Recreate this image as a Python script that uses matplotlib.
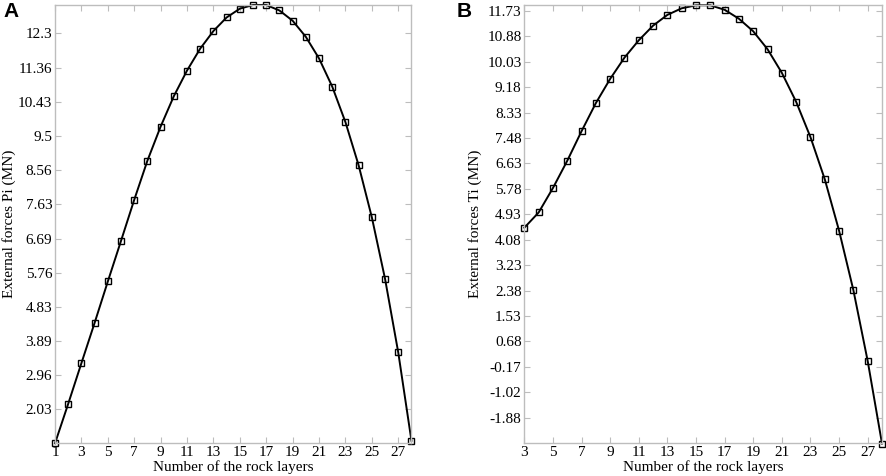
import numpy as np
import matplotlib.pyplot as plt

# Panel A: external forces Pi
layers_a = np.arange(1, 29)
pi_values = [1.1, 2.18, 3.29, 4.39, 5.52, 6.63, 7.75, 8.82, 9.75, 10.58,
             11.28, 11.88, 12.36, 12.73, 12.97, 13.07, 13.07, 12.92, 12.64, 12.2,
             11.61, 10.84, 9.87, 8.69, 7.27, 5.59, 3.58, 1.17]
yticks_a = [2.03, 2.96, 3.89, 4.83, 5.76, 6.69, 7.63, 8.56, 9.5, 10.43, 11.36, 12.3]
yticklabels_a = ["2.03", "2.96", "3.89", "4.83", "5.76", "6.69", "7.63",
                 "8.56", "9.5", "10.43", "11.36", "12.3"]

# Panel B: external forces Ti
layers_b = np.arange(3, 29)
ti_values = [4.48, 4.99, 5.81, 6.72, 7.71, 8.65, 9.46, 10.17, 10.75, 11.24,
             11.6, 11.82, 11.92, 11.92, 11.77, 11.47, 11.05, 10.45, 9.66, 8.69,
             7.51, 6.1, 4.38, 2.39, 0.02, -2.74]
yticks_b = [-1.88, -1.02, -0.17, 0.68, 1.53, 2.38, 3.23, 4.08, 4.93, 5.78,
            6.63, 7.48, 8.33, 9.18, 10.03, 10.88, 11.73]

plt.rcParams["font.family"] = ["Liberation Serif", "DejaVu Serif"]
plt.rcParams["font.size"] = 11

fig = plt.figure(figsize=(8.86, 4.76), dpi=100)
ax_a = fig.add_axes([0.0621, 0.0687, 0.4023, 0.9208])
ax_b = fig.add_axes([0.5918, 0.0687, 0.4037, 0.9208])

spine_col = "#bdbdbd"


def style(ax):
    for s in ax.spines.values():
        s.set_color(spine_col)
        s.set_linewidth(1.0)
    ax.tick_params(direction="in", length=4, width=0.8, color=spine_col,
                   top=True, right=True, pad=2, labelsize=11, labelcolor="black")


ax_a.plot(layers_a, pi_values, color="black", lw=1.4, marker="s", ms=5,
          mfc="none", mec="black", mew=1.0, clip_on=False)
ax_a.set_xlim(1, 28)
ax_a.set_ylim(1.1, 13.07)
ax_a.set_xticks(np.arange(1, 28, 2))
ax_a.set_yticks(yticks_a)
ax_a.set_yticklabels(yticklabels_a)
ax_a.set_xlabel("Number of the rock layers", fontsize=11)
ax_a.set_ylabel("External forces Pi (MN)", fontsize=11)
ax_a.xaxis.set_label_coords(0.5, -0.038)
ax_a.yaxis.set_label_coords(-0.109, 0.5)
style(ax_a)

ax_b.plot(layers_b, ti_values, color="black", lw=1.4, marker="s", ms=5,
          mfc="none", mec="black", mew=1.0, clip_on=False)
ax_b.set_xlim(3, 28)
ax_b.set_ylim(-2.73, 11.93)
ax_b.set_xticks(np.arange(3, 28, 2))
ax_b.set_yticks(yticks_b)
ax_b.set_yticklabels([f"{v:.2f}" for v in yticks_b])
ax_b.set_xlabel("Number of the rock layers", fontsize=11)
ax_b.set_ylabel("External forces Ti (MN)", fontsize=11)
ax_b.xaxis.set_label_coords(0.5, -0.038)
ax_b.yaxis.set_label_coords(-0.119, 0.5)
style(ax_b)

fig.text(0.004, 0.995, "A", fontsize=15, fontweight="bold", va="top",
         family=["Liberation Sans", "DejaVu Sans"])
fig.text(0.515, 0.995, "B", fontsize=15, fontweight="bold", va="top",
         family=["Liberation Sans", "DejaVu Sans"])

fig.savefig("out.png", dpi=100)
